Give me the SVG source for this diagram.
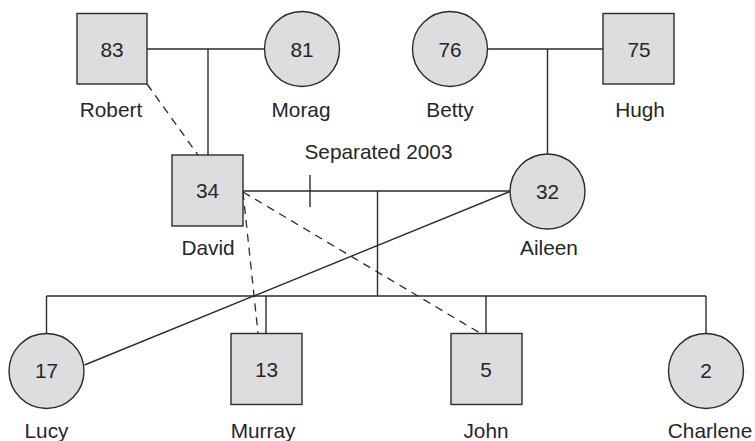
<svg xmlns="http://www.w3.org/2000/svg" width="755" height="441" viewBox="0 0 755 441">
<style>
.shape{fill:#dcdddf;stroke:#2b2b2b;stroke-width:1.4}
.ln{fill:none;stroke:#2b2b2b;stroke-width:1.4}
.dash{fill:none;stroke:#2b2b2b;stroke-width:1.3;stroke-dasharray:8 6}
text{font-family:"Liberation Sans",Arial,sans-serif;font-size:20.8px;fill:#262626;text-anchor:middle}
</style>
<rect width="755" height="441" fill="#ffffff"/>
<g id="connectors">
<line class="ln" x1="147" y1="49" x2="264" y2="49"/>
<line class="ln" x1="208" y1="49" x2="208" y2="155"/>
<line class="ln" x1="487" y1="49" x2="603" y2="49"/>
<line class="ln" x1="547.5" y1="49" x2="547.5" y2="154"/>
<line class="ln" x1="243" y1="191" x2="510" y2="191"/>
<line class="ln" x1="310" y1="175" x2="310" y2="207"/>
<line class="ln" x1="377.5" y1="191" x2="377.5" y2="296"/>
<line class="ln" x1="46.5" y1="296" x2="706" y2="296"/>
<line class="ln" x1="46.5" y1="296" x2="46.5" y2="333"/>
<line class="ln" x1="266" y1="296" x2="266" y2="333"/>
<line class="ln" x1="486" y1="296" x2="486" y2="333"/>
<line class="ln" x1="706" y1="296" x2="706" y2="333"/>
<line class="ln" x1="510" y1="191.5" x2="84.5" y2="365"/>
<line class="dash" x1="147" y1="84" x2="198" y2="155"/>
<line class="dash" x1="243" y1="192" x2="258" y2="333"/>
<line class="dash" x1="243" y1="192" x2="480" y2="333"/>
<text x="378.5" y="159">Separated 2003</text>
</g>
<g id="robert"><rect class="shape" x="77" y="13.5" width="70" height="70.5"/><text x="112" y="57">83</text><text x="111" y="117">Robert</text></g>
<g id="morag"><circle class="shape" cx="302" cy="49" r="37.5"/><text x="302" y="57">81</text><text x="301" y="117">Morag</text></g>
<g id="betty"><circle class="shape" cx="450" cy="49" r="37.5"/><text x="450" y="57">76</text><text x="450" y="117">Betty</text></g>
<g id="hugh"><rect class="shape" x="603" y="13.5" width="71" height="70.5"/><text x="639" y="57">75</text><text x="640" y="117">Hugh</text></g>
<g id="david"><rect class="shape" x="172" y="155" width="71" height="71"/><text x="207.5" y="198">34</text><text x="208" y="255">David</text></g>
<g id="aileen"><circle class="shape" cx="547.5" cy="191.5" r="37.5"/><text x="547.5" y="199">32</text><text x="549" y="255">Aileen</text></g>
<g id="lucy"><circle class="shape" cx="46.5" cy="371" r="37.5"/><text x="46.5" y="378">17</text><text x="46.5" y="438">Lucy</text></g>
<g id="murray"><rect class="shape" x="231" y="333.5" width="71" height="71"/><text x="266.5" y="377">13</text><text x="263" y="438">Murray</text></g>
<g id="john"><rect class="shape" x="451" y="333.5" width="71" height="71"/><text x="486" y="377">5</text><text x="486" y="438">John</text></g>
<g id="charlene"><circle class="shape" cx="706" cy="371" r="37.5"/><text x="706" y="378">2</text><text x="710" y="438">Charlene</text></g>
</svg>
